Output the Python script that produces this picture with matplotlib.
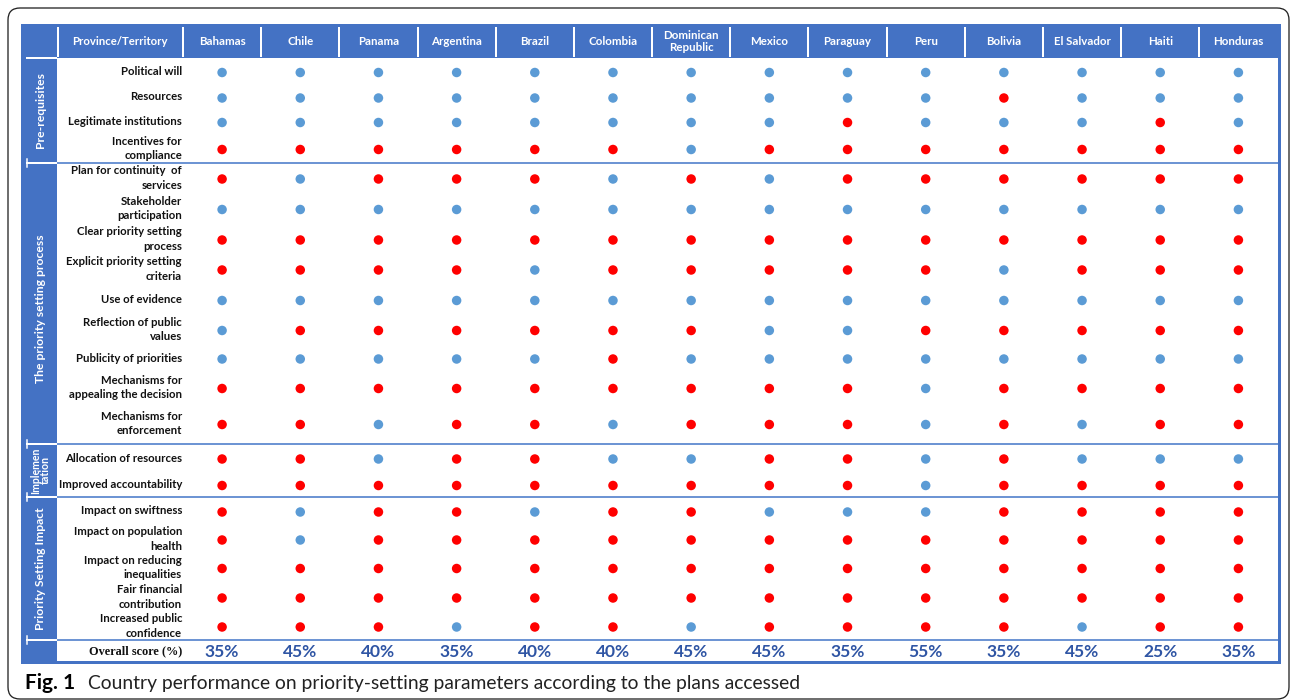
import numpy as np
import matplotlib
matplotlib.use("Agg")
from matplotlib import pyplot as plt
from matplotlib.patches import Rectangle, FancyBboxPatch

# ---- data -------------------------------------------------------------
countries = ["Bahamas", "Chile", "Panama", "Argentina", "Brazil", "Colombia",
             "Dominican\nRepublic", "Mexico", "Paraguay", "Peru", "Bolivia",
             "El Salvador", "Haiti", "Honduras"]

criteria = ["Political will", "Resources", "Legitimate institutions",
            "Incentives for\ncompliance",
            "Plan for continuity  of\nservices", "Stakeholder\nparticipation",
            "Clear priority setting\nprocess", "Explicit priority setting\ncriteria",
            "Use of evidence", "Reflection of public\nvalues",
            "Publicity of priorities", "Mechanisms for\nappealing the decision",
            "Mechanisms for\nenforcement",
            "Allocation of resources", "Improved accountability",
            "Impact on swiftness", "Impact on population\nhealth",
            "Impact on reducing\ninequalities", "Fair financial\ncontribution",
            "Increased public\nconfidence"]

groups = ["Pre-requisites", "The priority setting process",
          "Implemen\ntation", "Priority Setting Impact"]
group_sizes = [4, 9, 2, 5]

# 1 = parameter present (blue), 0 = absent (red); columns follow `countries`
met = [
    [1, 1, 1, 1, 1, 1, 1, 1, 1, 1, 1, 1, 1, 1],
    [1, 1, 1, 1, 1, 1, 1, 1, 1, 1, 0, 1, 1, 1],
    [1, 1, 1, 1, 1, 1, 1, 1, 0, 1, 1, 1, 0, 1],
    [0, 0, 0, 0, 0, 0, 1, 0, 0, 0, 0, 0, 0, 0],
    [0, 1, 0, 0, 0, 1, 0, 1, 0, 0, 0, 0, 0, 0],
    [1, 1, 1, 1, 1, 1, 1, 1, 1, 1, 1, 1, 1, 1],
    [0, 0, 0, 0, 0, 0, 0, 0, 0, 0, 0, 0, 0, 0],
    [0, 0, 0, 0, 1, 0, 0, 0, 0, 0, 1, 0, 0, 0],
    [1, 1, 1, 1, 1, 1, 1, 1, 1, 1, 1, 1, 1, 1],
    [1, 0, 0, 0, 0, 0, 0, 1, 1, 0, 0, 0, 0, 0],
    [1, 1, 1, 1, 1, 0, 1, 1, 1, 1, 1, 1, 1, 1],
    [0, 0, 0, 0, 0, 0, 0, 0, 0, 1, 0, 0, 0, 0],
    [0, 0, 1, 0, 0, 1, 0, 0, 0, 1, 0, 1, 0, 0],
    [0, 0, 1, 0, 0, 1, 1, 0, 0, 1, 0, 1, 1, 1],
    [0, 0, 0, 0, 0, 0, 0, 0, 0, 1, 0, 0, 0, 0],
    [0, 1, 0, 0, 1, 0, 0, 1, 1, 1, 0, 0, 0, 0],
    [0, 1, 0, 0, 0, 0, 0, 0, 0, 0, 0, 0, 0, 0],
    [0, 0, 0, 0, 0, 0, 0, 0, 0, 0, 0, 0, 0, 0],
    [0, 0, 0, 0, 0, 0, 0, 0, 0, 0, 0, 0, 0, 0],
    [0, 0, 0, 1, 0, 0, 1, 0, 0, 0, 0, 1, 0, 0],
]

overall_score = [35, 45, 40, 35, 40, 40, 45, 45, 35, 55, 35, 45, 25, 35]

caption_bold = "Fig. 1"
caption_text = "Country performance on priority-setting parameters according to the plans accessed"

# ---- layout (pixels) ---------------------------------------------------
W, H = 1290, 700
left, right = 22, 1279
top, head_bot = 25, 58
side_w = 57            # right edge of the blue group column
label_r = 183          # right edge of the criteria label column
col_w = (right - 1.5 - label_r) / len(countries)
row_h = [27, 24, 25, 29, 30, 31, 30, 30, 31, 29, 28, 31, 41,
         28, 25, 28, 28, 29, 30, 28]
score_h = 22
group_dy = [0, 5, 0, 0]
group_fs = [8.7, 8.7, 7.6, 8.7]

BLUE = "#4472C4"
LINE = "#6E95D4"
DOT_BLUE = "#5B9BD5"
DOT_RED = "#FF0000"
SCORE = "#2F55A4"
px = 0.72  # points per pixel at dpi 100

plt.rcParams["font.family"] = ["Lato", "DejaVu Sans"]

fig = plt.figure(figsize=(W / 100, H / 100), dpi=100)
ax = fig.add_axes([0, 0, 1, 1])
ax.set_xlim(0, W)
ax.set_ylim(H, 0)
ax.axis("off")

edges = np.concatenate([[head_bot], head_bot + np.cumsum(row_h)])
row_y = (edges[:-1] + edges[1:]) / 2
bottom = edges[-1] + score_h
col_x = label_r + (np.arange(len(countries)) + 0.5) * col_w

# outer rounded frame
ax.add_patch(FancyBboxPatch((8, 8), 1281, 691, boxstyle="round,pad=0,rounding_size=12",
                            fc="none", ec="#222222", lw=1.3 * px, zorder=0))

# blue header and side column, table frame
ax.add_patch(Rectangle((left, top), right - left, head_bot - top, fc=BLUE, ec="none"))
ax.add_patch(Rectangle((left, top), side_w - left, bottom - top, fc=BLUE, ec="none"))
ax.add_patch(Rectangle((left, top), right - left, bottom - top, fc="none", ec=BLUE,
                       lw=3 * px, zorder=5))

# header separators and text
seps = [side_w + 1] + list(label_r + np.arange(len(countries)) * col_w)
for sx in seps:
    ax.plot([sx, sx], [top + 3, head_bot - 2], color="white", lw=2 * px)
hy = (top + head_bot) / 2
ax.text((side_w + label_r) / 2, hy, "Province/Territory", color="white",
        fontsize=8.2, fontweight="bold", ha="center", va="center")
for x, c in zip(col_x, countries):
    ax.text(x, hy, c, color="white", fontsize=8.3, fontweight="bold",
            ha="center", va="center", linespacing=1.2)

# group dividers and group titles
bounds = np.concatenate([[0], np.cumsum(group_sizes)])
ax.plot([27, side_w - 1], [head_bot, head_bot], color="white", lw=2 * px, zorder=4)
for gi, g in enumerate(groups):
    y0, y1 = edges[bounds[gi]], edges[bounds[gi + 1]]
    ax.plot([side_w, right], [y1, y1], color=LINE, lw=2 * px, zorder=4)
    ax.plot([27, side_w - 1], [y1, y1], color="white", lw=2 * px, zorder=4)
    ax.plot([27, 27], [y1 - 4, y1 + 4], color="white", lw=1.5 * px, zorder=4)
    ax.text((left + side_w) / 2 + 1, (y0 + y1) / 2 + group_dy[gi], g, color="white",
            fontsize=group_fs[gi], fontweight="bold", rotation=90, ha="center",
            va="center", linespacing=0.95)

# criteria labels and dots
for yi, lab in zip(row_y, criteria):
    ax.text(label_r - 1, yi, lab, fontsize=8.2, fontweight="bold", ha="right",
            va="center", multialignment="right", color="#111111", linespacing=1.4)
M = np.array(met)
xx, yy = np.meshgrid(col_x, row_y)
colors = np.where(M == 1, DOT_BLUE, DOT_RED)
ax.scatter(xx.ravel(), yy.ravel() + 1, s=(9.5 * px) ** 2, c=colors.ravel(),
           edgecolors="none", zorder=6)

# overall score row
sy = edges[-1] + score_h / 2
ax.text(label_r - 1, sy, "Overall score (%)", fontsize=8.8, fontweight="bold",
        family="Liberation Serif", ha="right", va="center", color="#111111")
for x, v in zip(col_x, overall_score):
    ax.text(x, sy + 1, f"{v}%", fontsize=12.5, fontweight="bold", color=SCORE,
            ha="center", va="center")

# caption
t = ax.text(25, 683, caption_bold, fontsize=15, fontweight="bold", va="center")
fig.canvas.draw()
bb = t.get_window_extent().transformed(ax.transData.inverted())
ax.text(bb.x1 + 13, 683, caption_text, fontsize=13.9, va="center", color="#222222")

fig.savefig("out.png", dpi=100)
